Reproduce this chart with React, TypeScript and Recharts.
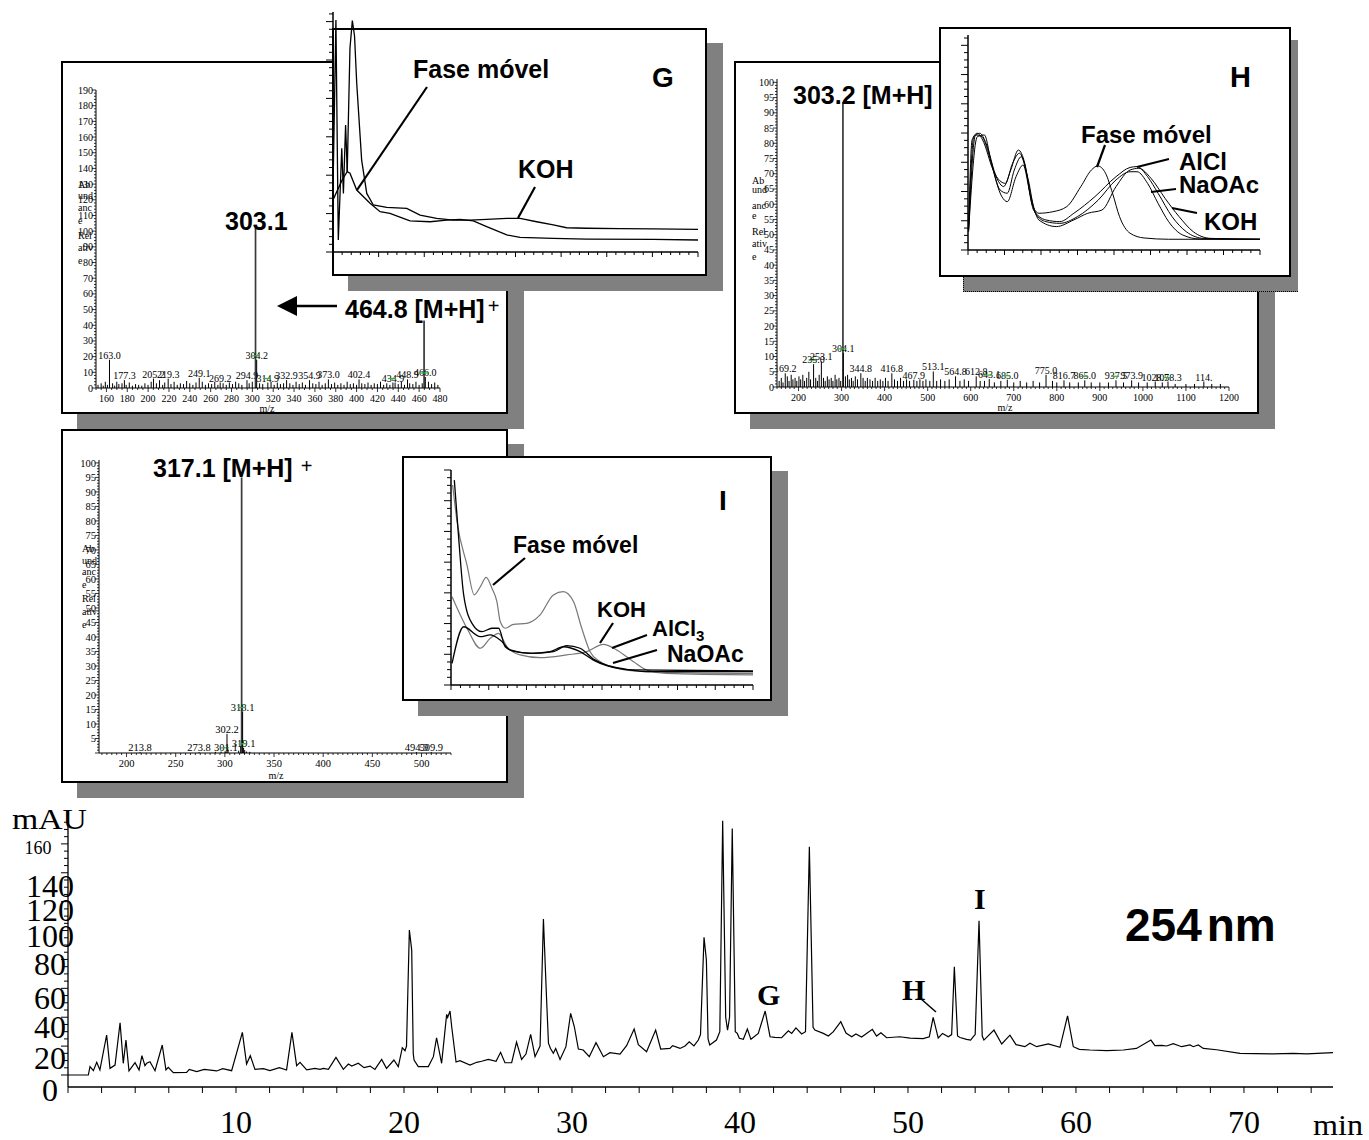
import React from "react";
import { Bar, BarChart, Line, LineChart, XAxis, YAxis } from "recharts";

const SERIF = "'Liberation Serif', 'Times New Roman', serif";
const SANS = "'Liberation Sans', Arial, sans-serif";
const GREY = "#808080";

type Pt = [number, number];
type Peak = [number, number, string, boolean?];

// HPLC chromatogram at 254 nm: [time (min), mAU]
const chrom0to20: Pt[] = [
  [0, 0], [1.21, 0], [1.31, 5.8], [1.51, 3], [1.71, 8.8], [1.9, 3.5], [2.3, 27.7], [2.5, 4.6],
  [2.8, 6.9], [3.1, 36.2], [3.29, 8.1], [3.45, 24.2], [3.63, 2.8], [3.99, 8.5], [4.23, 3.5],
  [4.4, 13.4], [4.58, 6.5], [4.68, 8.1], [4.88, 9.2], [5.18, 3], [5.61, 20.8], [5.83, 3.5],
  [5.97, 5.3], [6.27, 1.6], [7.06, 1.8], [7.22, 3.9], [7.66, 2.3], [8.11, 3.9], [8.85, 2.8],
  [9.21, 4.4], [9.74, 3], [10.38, 29.5], [10.63, 7.6], [10.85, 13.4], [11.13, 3.9], [11.63, 4.4],
  [12.02, 3], [12.58, 5.1], [13.01, 3.5], [13.33, 29.5], [13.61, 6.5], [13.81, 8.8], [14.21, 3.5],
  [14.7, 4.6], [15.0, 3.9], [15.2, 4.6], [15.5, 3.9], [15.95, 12.2], [16.39, 3.9], [16.69, 7.6],
  [16.89, 6.2], [17.28, 8.1], [17.62, 5.1], [17.98, 6.2], [18.27, 3.9], [18.67, 10.8], [18.96, 4.6],
  [19.4, 10.4], [19.66, 5.8], [19.9, 18.9],
];
const chrom20to40: Pt[] = [
  [20.06, 16.8], [20.15, 20], [20.32, 100.3], [20.46, 86.5], [20.55, 15], [20.6, 10.4], [20.85, 5.8],
  [21.45, 5.8], [21.75, 12.7], [21.94, 25.8], [22.24, 8.1], [22.54, 42], [22.6, 39.9], [22.74, 44.3],
  [22.84, 33.4], [23.1, 9], [23.33, 9.9], [23.93, 6.9], [24.33, 8.8], [24.62, 9.5], [25.02, 10.8],
  [25.48, 9.5], [25.75, 15.7], [26.01, 8.5], [26.41, 8.5], [26.7, 22.8], [27.0, 10.8], [27.26, 14.5],
  [27.54, 28.1], [27.8, 12.7], [28.1, 20], [28.3, 108], [28.49, 51.9], [28.6, 22], [28.72, 18.4],
  [28.89, 15], [29.03, 18.4], [29.29, 10.8], [29.64, 19.6], [29.92, 42.7], [30.14, 33.4], [30.38, 18],
  [30.67, 17.3], [31.03, 12.7], [31.43, 22.4], [31.87, 12.7], [32.26, 15.5], [32.86, 14.5],
  [33.25, 20.3], [33.7, 31.8], [33.95, 21], [34.44, 16.1], [34.98, 31.1], [35.28, 18], [35.83, 18.4],
  [35.99, 20.3], [36.43, 18.4], [36.73, 20.1], [36.98, 23], [37.26, 20.1], [37.52, 24.2], [37.65, 28],
  [37.86, 95.3], [38.0, 79.6], [38.1, 25], [38.2, 20.8], [38.6, 24.2], [38.8, 30], [38.97, 176],
  [39.15, 40], [39.26, 31], [39.38, 40], [39.54, 170.7], [39.72, 30], [39.84, 28.8], [39.96, 25.4],
];
const chrom40to75: Pt[] = [
  [40.2, 24.7], [40.44, 31.8], [40.65, 24.7], [41.09, 28.8], [41.5, 44.3], [41.79, 26.5], [42.08, 26.1],
  [42.48, 25.8], [42.88, 30.6], [43.08, 28.8], [43.33, 32.6], [43.67, 28.4], [43.9, 30], [44.13, 158],
  [44.35, 33], [44.46, 31.1], [44.96, 28.8], [45.26, 27], [45.56, 30], [46.0, 36.9], [46.31, 29],
  [46.65, 26.5], [46.9, 28.4], [47.24, 26.3], [47.88, 31.6], [48.13, 27], [48.39, 29.3], [48.73, 25.8],
  [49.52, 26.5], [50.12, 25.6], [50.91, 25.2], [51.27, 26.5], [51.5, 39.9], [51.8, 25.6], [52.06, 28.8],
  [52.4, 26.5], [52.6, 28], [52.76, 75], [52.95, 27], [53.1, 26], [53.49, 24.7], [53.73, 24.2],
  [53.89, 26.5], [54.0, 28], [54.23, 106.8], [54.42, 27], [54.52, 24.2], [55.12, 31.1], [55.58, 21.5],
  [56.07, 27.6], [56.43, 21], [56.96, 19.6], [57.26, 22], [57.66, 19.6], [58.35, 21.6], [59.05, 19.2],
  [59.5, 41], [59.84, 19.6], [60.2, 17.8], [60.83, 17.3], [61.83, 16.9], [62.82, 17.3], [63.6, 18.4],
  [64.46, 24.2], [64.7, 20.3], [65.1, 20.5], [65.4, 20.1], [65.79, 21.7], [66.29, 19.6], [66.79, 20.8],
  [66.98, 19.6], [67.28, 20.8], [67.58, 18.4], [68.37, 17.5], [69.76, 15], [71.75, 14.6], [72.93, 15],
  [73.73, 14.6], [75.3, 15.5],
];
const chromXLabels = [10, 20, 30, 40, 50, 60, 70];
const chromYLabels = [0, 20, 40, 60, 80, 100, 120, 140, 160];

// mass spectra: [m/z, relative abundance, label, green mark]
const msGPeaks: Peak[] = [
  [163.0, 18, "163.0"], [177.3, 5, "177.3"], [205.2, 6, "205.2"], [219.3, 6, "219.3"],
  [249.1, 6.5, "249.1"], [269.2, 3.5, "269.2"], [294.9, 5, "294.9"], [303.1, 102, ""],
  [304.2, 18, "304.2", true], [314.9, 3.5, "314.9", true], [332.9, 5, "332.9"], [354.9, 5, "354.9"],
  [373.0, 5.5, "373.0"], [402.4, 5.5, "402.4"], [434.9, 3.5, "434.9", true], [448.9, 5.5, "448.9"],
  [464.8, 43, ""], [466.0, 7, "466.0", true],
];
const msGNoise: Pt[] = [
  [152, 2], [155, 3], [157, 1.5], [159, 4], [161, 2], [166, 3], [168, 1.5], [170, 4], [172, 2.5],
  [175, 3], [179, 2], [182, 3.5], [185, 1.5], [188, 2.5], [191, 2], [194, 1.5], [197, 3], [200, 2],
  [203, 4], [208, 3], [211, 5], [214, 2], [216, 3.5], [222, 2.5], [225, 4], [228, 2], [231, 3],
  [234, 2.5], [237, 4.5], [240, 3], [243, 2], [246, 3.5], [252, 4], [255, 2], [258, 3], [261, 2.5],
  [264, 4], [267, 2], [272, 3], [275, 2], [278, 3.5], [281, 2.5], [284, 4], [287, 3], [290, 2],
  [297, 3], [300, 4], [307, 3], [310, 2.5], [318, 4], [321, 2], [324, 3.5], [327, 2.5], [330, 3],
  [336, 3], [339, 2], [342, 4], [345, 2.5], [348, 3.5], [351, 2], [358, 3], [361, 2.5], [364, 4],
  [367, 2], [370, 3], [376, 2.5], [379, 3.5], [382, 2], [385, 3], [388, 2], [391, 4], [394, 2.5],
  [397, 3], [400, 2], [405, 3], [408, 2.5], [411, 3.5], [414, 2], [417, 3], [420, 2.5], [423, 4],
  [426, 2], [429, 3], [432, 2], [437, 3.5], [440, 2.5], [443, 4], [446, 2], [451, 3], [454, 2.5],
  [457, 4], [460, 2], [463, 3], [469, 4], [472, 2.5], [475, 3.5], [478, 2],
];
const msHPeaks: Peak[] = [
  [169.2, 4.5, "169.2"], [235.0, 7.5, "235.0", true], [253.1, 8.4, "253.1"], [303.2, 93.5, ""],
  [304.1, 11.2, "304.1", true], [344.8, 4.5, "344.8"], [416.8, 4.5, "416.8"], [467.9, 2.4, "467.9"],
  [513.1, 5.1, "513.1"], [564.8, 3.5, "564.8"], [612.8, 3.5, "612.8"], [643.1, 2.6, "643.1", true],
  [685.0, 2.4, "685.0", true], [775.0, 4, "775.0"], [816.7, 2.2, "816.7"], [865.0, 2.2, "865.0", true],
  [937.5, 2.2, "937.5", true], [973.9, 2.2, "973.9"], [1028.7, 1.8, "1028.7"],
  [1058.3, 1.8, "1058.3", true], [1141.6, 1.8, "114.\n1.6"],
];
const msHNoise: Pt[] = [
  [155, 2], [160, 3], [164, 1.5], [174, 3.5], [178, 2], [183, 4], [187, 2.5], [192, 3], [196, 2],
  [201, 3.5], [205, 2.5], [210, 4], [214, 2], [219, 3], [224, 5], [228, 2.5], [240, 3], [244, 2],
  [248, 4], [258, 3], [262, 2], [267, 3.5], [271, 2.5], [276, 3], [280, 2], [285, 4], [289, 2.5],
  [294, 3], [298, 2], [309, 3.5], [314, 4], [318, 2.5], [323, 3], [327, 2], [332, 3.5], [337, 2.5],
  [350, 3], [355, 2], [360, 3], [366, 2.5], [372, 2], [378, 3], [384, 2], [390, 2.5], [396, 2],
  [402, 3], [408, 2], [423, 2.5], [430, 2], [437, 3], [444, 2], [451, 2.5], [458, 2], [475, 2],
  [482, 2.5], [489, 2], [496, 2.5], [505, 2], [521, 2], [530, 2.5], [540, 2], [550, 2.5], [575, 2],
  [585, 2.5], [595, 2], [622, 2], [632, 2], [655, 1.5], [670, 2], [700, 1.5], [715, 2], [730, 1.5],
  [745, 2], [760, 1.5], [790, 2], [800, 1.5], [830, 1.5], [850, 1.5], [880, 1.5], [900, 1.5],
  [920, 1.5], [955, 1.5], [990, 1.5], [1010, 1.5], [1045, 1.5], [1075, 1], [1100, 1], [1120, 1],
  [1160, 1], [1180, 1],
];
const msIPeaks: Peak[] = [
  [213.8, 0.3, "213.8"], [273.8, 0.3, "273.8"], [301.1, 0.4, "301.1", true], [302.2, 6.6, "302.2"],
  [317.1, 95, ""], [318.1, 14.3, "318.1", true], [319.1, 1.8, "319.1", true], [494.9, 0.3, "494.9"],
  [509.9, 0.3, "509.9"],
];
const msINoise: Pt[] = [
  [290.5, 0.4], [296.2, 0.5], [300.3, 0.6], [303.3, 1.2], [314.1, 0.8], [316.1, 2.4], [320.2, 1],
  [322.1, 0.5], [325.5, 0.4],
];

// UV spectra: [nm, relative absorbance]
const uvGFase: Pt[] = [
  [200, 25.8], [201.6, 96.7], [202.9, 5], [204.8, 43.2], [205.7, 24.4], [206.9, 52.9], [207.8, 33.5],
  [209.3, 32.8], [213, 25.8], [220.3, 20.3], [225.8, 16.8], [231.2, 16.1], [238.5, 14], [242.2, 13],
  [253.2, 12.6], [262.3, 13.3], [269.6, 13.6], [276.9, 13], [284.2, 10.6], [295.2, 7.1], [302.5, 6.1],
  [320.7, 5.7], [339, 5.4], [375.5, 5.3], [400, 5],
];
const uvGKoh: Pt[] = [
  [200, 21.7], [205, 30], [207.8, 33.5], [209.3, 85], [210.6, 96.4], [211.8, 90], [213, 70.3],
  [215.7, 38.3], [218.5, 24.4], [222.1, 19.6], [229.4, 18.6], [240.4, 18.2], [247.7, 15.4], [256.8, 14],
  [265.9, 13.3], [275.1, 13.3], [284.2, 13.6], [295.2, 14], [302.5, 14], [311.6, 12.6], [320.7, 11.3],
  [328, 10.1], [339, 9.9], [357.3, 9.7], [375.5, 9.6], [400, 9.4],
];
const uvHFase: Pt[] = [
  [200.4, 9.3], [202.8, 51.2], [206.4, 54.3], [210.0, 51.2], [217.2, 37.2], [224.4, 29.5], [229.3, 37.2],
  [234.5, 46.5], [238.9, 40.3], [243.7, 21.7], [248.5, 17.1], [258.1, 17.8], [267.7, 20.2], [277.3, 29.5],
  [284.5, 37.2], [288.9, 39.1], [294.2, 35.7], [299.0, 26.4], [303.8, 15.5], [311.0, 7.8], [320.6, 5.6],
  [337.4, 5.0], [400, 5.0],
];
const uvHAlcl: Pt[] = [
  [200.4, 10.9], [204.0, 52.7], [208.1, 54.3], [212.4, 49.6], [219.6, 34.1], [225.6, 31.0], [230.5, 40.3],
  [235.3, 45.0], [240.1, 35.7], [244.9, 18.6], [253.3, 14.0], [262.9, 13.2], [272.5, 17.1], [286.9, 24.8],
  [301.4, 34.1], [311.0, 38.4], [315.8, 38.8], [323.0, 34.1], [330.2, 26.4], [339.8, 15.5], [349.5, 8.5],
  [361.5, 5.4], [400, 5.0],
];
const uvHNaoac: Pt[] = [
  [200.4, 9.3], [205.2, 53.5], [209.5, 52.7], [214.8, 43.4], [222.0, 27.9], [226.9, 26.4], [231.7, 37.2],
  [236.5, 43.4], [241.3, 32.6], [246.1, 17.1], [253.3, 13.2], [262.9, 12.4], [274.9, 15.5], [289.3, 23.3],
  [301.4, 32.6], [311.0, 36.4], [315.8, 36.4], [323.0, 31.0], [330.2, 21.7], [337.4, 13.2], [347.0, 7.0],
  [359.1, 5.1], [400, 5.0],
];
const uvHKoh: Pt[] = [
  [200.4, 8.5], [206.4, 52.7], [211.2, 53.5], [216.0, 40.3], [223.2, 24.8], [226.9, 22.5], [232.9, 34.1],
  [237.7, 39.5], [242.5, 26.4], [248.5, 14.0], [260.5, 10.9], [272.5, 14.0], [282.1, 17.1], [291.8, 18.6],
  [301.4, 29.5], [311.0, 37.2], [317.0, 38.0], [325.4, 33.3], [335.0, 24.0], [344.6, 15.5], [354.3, 8.5],
  [366.3, 5.4], [400, 5.0],
];
const uvIFase: Pt[] = [
  [201.1, 93.0], [204.0, 76.0], [210.6, 55.8], [215.4, 41.9], [219.4, 45.7], [223.3, 50.1], [227.1, 45.0],
  [230.4, 38.8], [232.6, 29.5], [235.9, 26.4], [241.4, 28.2], [250.2, 28.7], [259.0, 32.6], [267.8, 41.9],
  [274.4, 43.4], [281.1, 38.8], [286.6, 26.4], [292.1, 15.5], [298.7, 10.9], [309.7, 7.8], [320.7, 6.5],
  [342.7, 5.9], [400, 5.4],
];
const uvIKoh: Pt[] = [
  [200.7, 41.1], [210.6, 26.4], [219.4, 17.1], [226.0, 21.7], [231.5, 24.0], [237.0, 17.8], [245.8, 14.0],
  [259.0, 12.7], [276.7, 14.0], [289.9, 15.5], [300.9, 18.9], [309.7, 16.3], [320.7, 10.9], [329.5, 7.0],
  [342.7, 5.4], [400, 4.7],
];
const uvIAlcl: Pt[] = [
  [202.2, 95.3], [205.1, 68.2], [208.4, 41.9], [213.9, 28.7], [220.5, 24.8], [227.1, 26.4], [231.5, 26.4],
  [235.9, 17.8], [242.5, 15.5], [254.6, 14.7], [267.8, 15.5], [276.7, 18.3], [285.5, 17.1], [294.3, 12.1],
  [303.1, 9.3], [311.9, 7.8], [329.5, 6.2], [400, 6.2],
];
const uvINaoac: Pt[] = [
  [200.7, 10.1], [208.4, 27.1], [219.4, 22.5], [226.0, 23.3], [232.6, 20.9], [239.2, 16.3], [252.4, 14.7],
  [265.6, 15.5], [274.4, 17.8], [285.5, 15.5], [294.3, 11.6], [303.1, 9.0], [320.7, 7.0], [400, 6.5],
];

const yTitleRows = ["Ab", "und", "anc", "e", "Rel", "ativ", "e"];
const chromYShift: Record<number, number> = { 0: 15, 20: 12, 40: 10, 60: 9, 80: 4, 100: 5, 120: 8, 140: 13 };

const range = (a: number, b: number, s: number) => {
  const out: number[] = [];
  const n = Math.round((b - a) / s);
  for (let i = 0; i <= n; i++) out.push(+(a + i * s).toFixed(4));
  return out;
};
const near = (v: number, step: number) => Math.abs(v / step - Math.round(v / step)) < 1e-6;
const toXY = (pts: Pt[]) => pts.map(([x, y]) => ({ x, y }));

type Stick = { mz: number; v: number; txt?: string; green?: boolean; big?: boolean };
const toSticks = (peaks: Peak[], noise: Pt[]): Stick[] =>
  [
    ...peaks.map(([mz, v, txt, green]) => ({ mz, v, txt, green, big: txt === "" })),
    ...noise.map(([mz, v]) => ({ mz, v })),
  ].sort((a, b) => a.mz - b.mz);

type Rect = { left: number; top: number; width: number; height: number };

// ---------- main chromatogram ----------
const chromXTicks = range(0, 74, 2);
const chromYTicks = range(0, 175, 5);

const chromXTick = (p: any) => {
  const v = p.payload.value;
  return (
    <g>
      <line x1={p.x} x2={p.x} y1={p.y} y2={p.y + 6} stroke="#000" />
      {chromXLabels.includes(v) && (
        <text x={p.x} y={p.y + 46} textAnchor="middle" fontSize={32} fontFamily={SERIF}>
          {v}
        </text>
      )}
    </g>
  );
};

const chromYTick = (p: any) => {
  const v = p.payload.value;
  const major = v % 20 === 0;
  let label = null;
  if (chromYLabels.includes(v)) {
    label =
      v === 160 ? (
        <text x={p.x - 30} y={p.y + 4} dy="0.35em" textAnchor="middle" fontSize={18} fontFamily={SERIF}>
          {v}
        </text>
      ) : (
        <text x={p.x - 18} y={p.y + chromYShift[v]} dy="0.35em" textAnchor="middle" fontSize={32} fontFamily={SERIF}>
          {v}
        </text>
      );
  }
  return (
    <g>
      <line x1={p.x} x2={p.x - (major ? 7 : 4)} y1={p.y} y2={p.y} stroke="#000" />
      {label}
    </g>
  );
};

function Chromatogram() {
  const data = [...chrom0to20, ...chrom20to40, ...chrom40to75].map(([t, v]) => ({ t, v }));
  return (
    <div style={{ position: "absolute", left: 0, top: 790 }}>
      <LineChart width={1369} height={350} data={data} margin={{ top: 25, right: 36, left: 0, bottom: 0 }}>
        <XAxis
          type="number"
          dataKey="t"
          domain={[0, 75.3]}
          ticks={chromXTicks}
          interval={0}
          tick={chromXTick}
          tickLine={false}
          tickSize={0}
          tickMargin={0}
          height={53}
          axisLine={{ stroke: "#000", strokeWidth: 1.3 }}
          allowDataOverflow
        />
        <YAxis
          type="number"
          domain={[-8.3, 180]}
          ticks={chromYTicks}
          interval={0}
          tick={chromYTick}
          tickLine={false}
          tickSize={0}
          tickMargin={0}
          width={68}
          axisLine={{ stroke: "#000", strokeWidth: 1.3 }}
          allowDataOverflow
        />
        <Line type="linear" dataKey="v" stroke="#000" strokeWidth={1.2} dot={false} activeDot={false} isAnimationActive={false} />
      </LineChart>
    </div>
  );
}

// ---------- mass spectra ----------
const msYTick = (labelStep: number, fs: number, showZero: boolean) => (p: any) => {
  const v = p.payload.value;
  const major = near(v, labelStep);
  return (
    <g>
      <line x1={p.x} x2={p.x - (major ? 4 : 2)} y1={p.y} y2={p.y} stroke="#000" strokeWidth={0.8} />
      {major && (showZero || v !== 0) && (
        <text x={p.x - 3} y={p.y} dy="0.35em" textAnchor="end" fontSize={fs} fontFamily={SERIF}>
          {v}
        </text>
      )}
    </g>
  );
};

const msXTick = (labelStep: number, fs: number) => (p: any) => {
  const v = p.payload.value;
  const major = near(v, labelStep);
  return (
    <g>
      <line x1={p.x} x2={p.x} y1={p.y} y2={p.y + (major ? 4 : 2)} stroke="#000" strokeWidth={0.8} />
      {major && (
        <text x={p.x} y={p.y + 14} textAnchor="middle" fontSize={fs} fontFamily={SERIF}>
          {v}
        </text>
      )}
    </g>
  );
};

const stickShape = (fs: number) => (p: any) => {
  const s: Stick = p.payload ?? p;
  const cx = p.x + p.width / 2;
  const base = p.y + p.height;
  const h = Math.max(p.height, 0.6);
  const w = s.big ? 1.7 : 1;
  const lines = s.txt ? s.txt.split("\n") : [];
  return (
    <g>
      <rect x={cx - w / 2} y={base - h} width={w} height={h} fill={s.big ? "#3a3a3a" : "#000"} />
      {lines[0] && (
        <text x={cx} y={base - h - 1} textAnchor="middle" fontSize={fs} fontFamily={SERIF}>
          {lines[0]}
        </text>
      )}
      {lines[1] && (
        <text x={cx + 1} y={base + 11} textAnchor="middle" fontSize={fs} fontFamily={SERIF}>
          {lines[1]}
        </text>
      )}
      {s.green && (
        <line x1={cx - 5} x2={cx + 3} y1={base - h - 4} y2={base - h - 4} stroke="#33b533" strokeWidth={1.2} />
      )}
    </g>
  );
};

function Spectrum(props: {
  plot: Rect;
  xDomain: [number, number];
  yDomain: [number, number];
  data: Stick[];
  xTicks: number[];
  yTicks: number[];
  xStep: number;
  yStep: number;
  fs: number;
  yZero: boolean;
}) {
  const { plot } = props;
  const pad = { l: 30, t: 14, r: 10, b: 24 };
  return (
    <div style={{ position: "absolute", left: plot.left - pad.l, top: plot.top - pad.t }}>
      <BarChart
        width={plot.width + pad.l + pad.r}
        height={plot.height + pad.t + pad.b}
        data={props.data}
        margin={{ top: pad.t, right: pad.r, left: 0, bottom: 0 }}
      >
        <XAxis
          type="number"
          dataKey="mz"
          domain={props.xDomain}
          ticks={props.xTicks}
          interval={0}
          tick={msXTick(props.xStep, props.fs)}
          tickLine={false}
          tickSize={0}
          tickMargin={0}
          height={pad.b}
          axisLine={{ stroke: "#000" }}
          allowDataOverflow
        />
        <YAxis
          type="number"
          domain={props.yDomain}
          ticks={props.yTicks}
          interval={0}
          tick={msYTick(props.yStep, props.fs, props.yZero)}
          tickLine={false}
          tickSize={0}
          tickMargin={0}
          width={pad.l}
          axisLine={{ stroke: "#000" }}
          allowDataOverflow
        />
        <Bar dataKey="v" barSize={1} shape={stickShape(props.fs)} isAnimationActive={false} />
      </BarChart>
    </div>
  );
}

// ---------- UV spectra ----------
type Curve = { pts: Pt[]; color: string; width: number; kind: "linear" | "monotone" };

function Uv(props: { plot: Rect; curves: Curve[]; xTicks: number[]; yTicks: number[]; xEvery: number; yEvery: number }) {
  const { plot, xTicks, yTicks } = props;
  const pad = { l: 14, t: 4, r: 4, b: 8 };
  const xTick = (p: any) => {
    const i = xTicks.indexOf(p.payload.value);
    return <line x1={p.x} x2={p.x} y1={p.y} y2={p.y + (i % props.xEvery === 0 ? 5 : 3)} stroke="#000" />;
  };
  const yTick = (p: any) => {
    const i = yTicks.indexOf(p.payload.value);
    return <line x1={p.x} x2={p.x - (i % props.yEvery === 0 ? 7 : 4)} y1={p.y} y2={p.y} stroke="#000" />;
  };
  return (
    <div style={{ position: "absolute", left: plot.left - pad.l, top: plot.top - pad.t }}>
      <LineChart
        width={plot.width + pad.l + pad.r}
        height={plot.height + pad.t + pad.b}
        margin={{ top: pad.t, right: pad.r, left: 0, bottom: 0 }}
      >
        <XAxis
          type="number"
          dataKey="x"
          domain={[200, 400]}
          ticks={xTicks}
          interval={0}
          tick={xTick}
          tickLine={false}
          tickSize={0}
          tickMargin={0}
          height={pad.b}
          axisLine={{ stroke: "#000", strokeWidth: 1.5 }}
          allowDataOverflow
        />
        <YAxis
          type="number"
          domain={[0, 100]}
          ticks={yTicks}
          interval={0}
          tick={yTick}
          tickLine={false}
          tickSize={0}
          tickMargin={0}
          width={pad.l}
          axisLine={{ stroke: "#000", strokeWidth: 1.5 }}
          allowDataOverflow
        />
        {props.curves.map((c, i) => (
          <Line
            key={i}
            data={toXY(c.pts)}
            dataKey="y"
            type={c.kind}
            stroke={c.color}
            strokeWidth={c.width}
            dot={false}
            activeDot={false}
            isAnimationActive={false}
          />
        ))}
      </LineChart>
    </div>
  );
}

// ---------- helpers for boxes and free text ----------
function Panel({ x, y, w, h, shadow = true }: { x: number; y: number; w: number; h: number; shadow?: boolean }) {
  return (
    <>
      {shadow && (
        <div style={{ position: "absolute", left: x + 16, top: y + 15, width: w, height: h, background: GREY }} />
      )}
      <div
        style={{
          position: "absolute",
          left: x,
          top: y,
          width: w,
          height: h,
          background: "#fff",
          border: "2.5px solid #000",
          boxSizing: "border-box",
        }}
      />
    </>
  );
}

function Layer({ children }: { children: React.ReactNode }) {
  return (
    <svg
      width={1369}
      height={1140}
      style={{ position: "absolute", left: 0, top: 0, overflow: "visible", pointerEvents: "none" }}
    >
      {children}
    </svg>
  );
}

const Bold = ({ x, y, size, children }: { x: number; y: number; size: number; children: React.ReactNode }) => (
  <text x={x} y={y} fontSize={size} fontWeight="bold" fontFamily={SANS}>
    {children}
  </text>
);

const Lead = ({ a, b }: { a: Pt; b: Pt }) => (
  <line x1={a[0]} y1={a[1]} x2={b[0]} y2={b[1]} stroke="#000" strokeWidth={2.2} />
);

const YTitle = ({ x, ys }: { x: number; ys: number[] }) => (
  <>
    {yTitleRows.map((r, i) => (
      <text key={i} x={x} y={ys[i]} fontSize={10} fontFamily={SERIF}>
        {r}
      </text>
    ))}
  </>
);

export default function App() {
  const gData = toSticks(msGPeaks, msGNoise);
  const hData = toSticks(msHPeaks, msHNoise);
  const iData = toSticks(msIPeaks, msINoise);
  return (
    <div
      style={{
        position: "absolute",
        left: 0,
        top: 0,
        width: 1369,
        height: 1140,
        background: "#fff",
        overflow: "hidden",
      }}
    >
      <Chromatogram />
      <Layer>
        <text x={12} y={829} fontSize={30} fontFamily={SERIF} textLength={75} lengthAdjust="spacingAndGlyphs">
          mAU
        </text>
        <text x={1313} y={1135} fontSize={30} fontFamily={SERIF} textLength={50} lengthAdjust="spacingAndGlyphs">
          min
        </text>
        <text x={1125} y={941} fontSize={46} fontWeight="bold" fontFamily={SANS}>
          254<tspan dx={5}>nm</tspan>
        </text>
        <text x={757} y={1005} fontSize={30} fontWeight="bold" fontFamily={SERIF}>
          G
        </text>
        <text x={902} y={1000} fontSize={30} fontWeight="bold" fontFamily={SERIF}>
          H
        </text>
        <line x1={920} y1={998} x2={936} y2={1012} stroke="#000" strokeWidth={1.5} />
        <text x={974} y={909} fontSize={30} fontWeight="bold" fontFamily={SERIF}>
          I
        </text>
      </Layer>

      {/* MS of peak G */}
      <Panel x={61} y={61} w={447} h={353} />
      <Spectrum
        plot={{ left: 96, top: 90, width: 344, height: 298 }}
        xDomain={[150, 480]}
        yDomain={[0, 190]}
        data={gData}
        xTicks={range(150, 480, 5)}
        yTicks={range(0, 190, 2)}
        xStep={20}
        yStep={10}
        fs={10}
        yZero
      />
      <Layer>
        <YTitle x={78} ys={[188, 198.5, 211, 223.5, 239, 251, 263.5]} />
        <Bold x={225} y={230} size={25}>
          303.1
        </Bold>
        <Bold x={345} y={318} size={25}>
          464.8 [M+H]
          <tspan dx={3} dy={-5} fontSize={20} fontWeight="normal">
            +
          </tspan>
        </Bold>
        <line x1={296} y1={306} x2={337} y2={306} stroke="#000" strokeWidth={2.5} />
        <polygon points="277,306 297,296 297,316" fill="#000" />
        <text x={267} y={412} textAnchor="middle" fontSize={10} fontFamily={SERIF}>
          m/z
        </text>
      </Layer>

      {/* MS of peak I */}
      <Panel x={61} y={429} w={447} h={354} />
      <Spectrum
        plot={{ left: 99, top: 460, width: 352, height: 293 }}
        xDomain={[172, 530]}
        yDomain={[0, 101]}
        data={iData}
        xTicks={range(175, 530, 5)}
        yTicks={range(0, 100, 1)}
        xStep={50}
        yStep={5}
        fs={10.5}
        yZero={false}
      />
      <Layer>
        <YTitle x={82} ys={[551.5, 564, 575, 587.5, 601.5, 615, 627.5]} />
        <Bold x={153} y={477} size={25}>
          317.1 [M+H]
          <tspan dx={8} dy={-4} fontSize={20} fontWeight="normal">
            +
          </tspan>
        </Bold>
        <text x={276} y={779} textAnchor="middle" fontSize={10} fontFamily={SERIF}>
          m/z
        </text>
      </Layer>

      {/* UV of peak G */}
      <Panel x={332} y={28} w={375} h={248} />
      <Uv
        plot={{ left: 333, top: 12, width: 365, height: 240 }}
        curves={[
          { pts: uvGFase, color: "#000", width: 1.3, kind: "linear" },
          { pts: uvGKoh, color: "#000", width: 1.3, kind: "linear" },
        ]}
        xTicks={range(200, 400, 5)}
        yTicks={range(0, 99.2, 3.2)}
        xEvery={5}
        yEvery={5}
      />
      <Layer>
        <Bold x={413} y={78} size={25}>
          Fase móvel
        </Bold>
        <Bold x={518} y={178} size={25}>
          KOH
        </Bold>
        <Bold x={652} y={87} size={28}>
          G
        </Bold>
        <Lead a={[427, 87]} b={[357, 190]} />
        <Lead a={[535, 187]} b={[518, 218]} />
      </Layer>

      {/* UV of peak I */}
      <Panel x={402} y={456} w={370} h={245} />
      <Uv
        plot={{ left: 451, top: 470, width: 302, height: 215 }}
        curves={[
          { pts: uvIFase, color: "#777", width: 1.2, kind: "monotone" },
          { pts: uvIKoh, color: "#777", width: 1.2, kind: "monotone" },
          { pts: uvIAlcl, color: "#000", width: 1.3, kind: "monotone" },
          { pts: uvINaoac, color: "#000", width: 1.3, kind: "monotone" },
        ]}
        xTicks={range(200, 400, 6.25)}
        yTicks={range(0, 100, 100 / 28)}
        xEvery={4}
        yEvery={4}
      />
      <Layer>
        <Bold x={719} y={510} size={28}>
          I
        </Bold>
        <Bold x={513} y={553} size={23}>
          Fase móvel
        </Bold>
        <Bold x={597} y={617} size={22}>
          KOH
        </Bold>
        <Bold x={652} y={636} size={22}>
          AlCl
          <tspan dy={5} fontSize={15}>
            3
          </tspan>
        </Bold>
        <Bold x={667} y={662} size={23}>
          NaOAc
        </Bold>
        <Lead a={[525, 558]} b={[493, 585]} />
        <Lead a={[613, 623]} b={[600, 643]} />
        <Lead a={[647, 635]} b={[612, 648]} />
        <Lead a={[657, 650]} b={[613, 663]} />
      </Layer>

      {/* MS of peak H */}
      <Panel x={734} y={61} w={525} h={353} />
      <Spectrum
        plot={{ left: 777, top: 79, width: 452, height: 308 }}
        xDomain={[150, 1200]}
        yDomain={[0, 101.1]}
        data={hData}
        xTicks={range(150, 1200, 10)}
        yTicks={range(0, 100, 1)}
        xStep={100}
        yStep={5}
        fs={10}
        yZero
      />
      <Layer>
        <YTitle x={752} ys={[183.5, 192.5, 208.5, 218.5, 235, 246.5, 260]} />
        <Bold x={793} y={104} size={25}>
          303.2 [M+H]
          <tspan dx={12} dy={-5} fontSize={20} fontWeight="normal">
            +
          </tspan>
        </Bold>
        <text x={1005} y={411} textAnchor="middle" fontSize={10} fontFamily={SERIF}>
          m/z
        </text>
      </Layer>

      {/* UV of peak H */}
      <div
        style={{
          position: "absolute",
          left: 963,
          top: 40,
          width: 335,
          height: 252,
          background: GREY,
          borderLeft: "1px dotted #000",
          borderBottom: "1px dotted #000",
          boxSizing: "border-box",
        }}
      />
      <Panel x={939} y={27} w={352} h={250} shadow={false} />
      <Uv
        plot={{ left: 968, top: 35, width: 292, height: 215 }}
        curves={[
          { pts: uvHFase, color: "#000", width: 1, kind: "monotone" },
          { pts: uvHAlcl, color: "#000", width: 1, kind: "monotone" },
          { pts: uvHNaoac, color: "#000", width: 1, kind: "monotone" },
          { pts: uvHKoh, color: "#000", width: 1, kind: "monotone" },
        ]}
        xTicks={range(200, 400, 6.25)}
        yTicks={range(0, 98.6, 3.4)}
        xEvery={4}
        yEvery={4}
      />
      <Layer>
        <Bold x={1230} y={87} size={29}>
          H
        </Bold>
        <Bold x={1081} y={143} size={24}>
          Fase móvel
        </Bold>
        <Bold x={1179} y={170} size={24}>
          AlCl
        </Bold>
        <Bold x={1179} y={193} size={24}>
          NaOAc
        </Bold>
        <Bold x={1204} y={230} size={24}>
          KOH
        </Bold>
        <Lead a={[1105, 145]} b={[1097, 167]} />
        <Lead a={[1169, 159]} b={[1137, 167]} />
        <Lead a={[1176, 189]} b={[1151, 192]} />
        <Lead a={[1197, 213]} b={[1172, 208]} />
      </Layer>
    </div>
  );
}
